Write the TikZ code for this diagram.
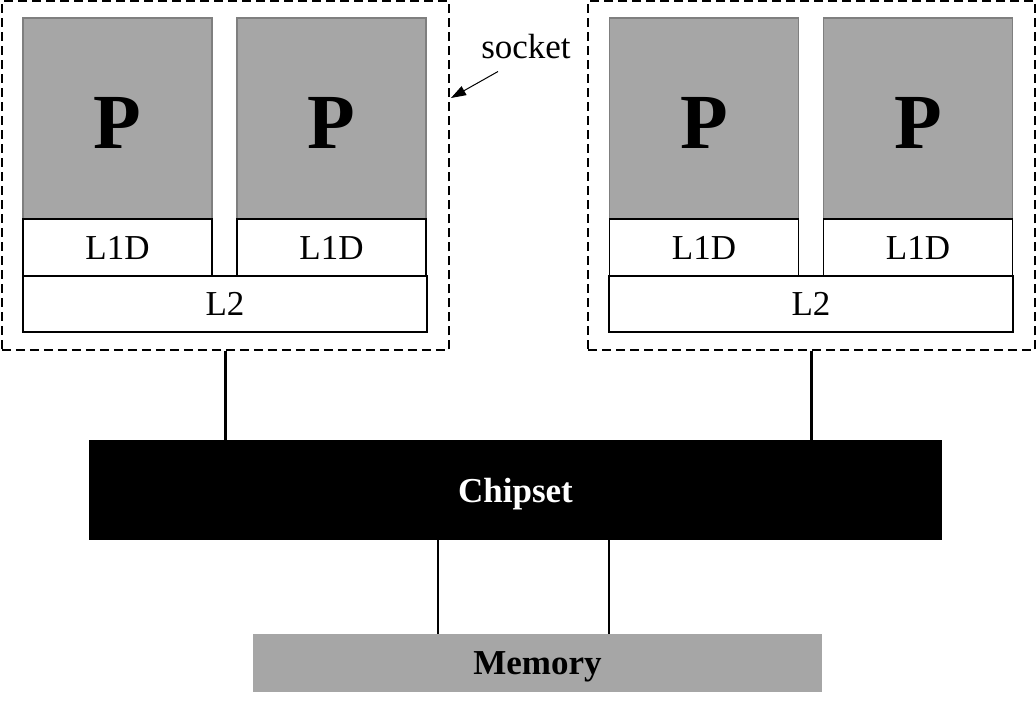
\documentclass[tikz,border=0pt]{standalone}
\usepackage{fontspec}
\setmainfont{Liberation Serif}
\usepackage{xcolor}
\usetikzlibrary{arrows.meta}

\definecolor{cpugray}{HTML}{A6A6A6}
\definecolor{cpuedge}{HTML}{7F7F7F}

\tikzset{
    core/.style={rectangle,draw=cpuedge,fill=cpugray,line width=1.5pt,inner sep=0pt,text height=60pt,text depth=0pt,
        minimum width=189pt,minimum height=201pt,font=\fontsize{78}{80}\selectfont\bfseries},
    cache/.style={rectangle,draw,line width=1.5pt,inner sep=0pt,fill=white,text depth=0pt,
        minimum height=57pt,font=\fontsize{35}{40}\selectfont},
    socketbox/.style={rectangle,draw,dashed,dash pattern=on 9pt off 5pt,line width=2.3pt,
        minimum width=447pt,minimum height=349pt,inner sep=0pt},
    bus/.style={line width=2.6pt}
}

\begin{document}
\begin{tikzpicture}[x=1pt,y=-1pt]
    \useasboundingbox (0,0) rectangle (1036,706);
    % left socket
    \node[socketbox](sockL) at (225.25,175.75){};
    \node[core](pL1) at (117.5,118.5){P};
    \node[core](pL2) at (331.5,118.5){P};
    \node[cache,minimum width=189pt](cL1) at (117.5,247.5){L1D};
    \node[cache,minimum width=189pt](cL2) at (331.5,247.5){L1D};
    \node[cache,minimum width=404pt,minimum height=56pt](l2L) at (225,304){L2};
    % right socket
    \node[socketbox](sockR) at (811.5,175.75){};
    \node[core](pR1) at (704,118.5){P};
    \node[core](pR2) at (918,118.5){P};
    \node[cache,minimum width=189pt](cR1) at (704,247.5){L1D};
    \node[cache,minimum width=189pt](cR2) at (918,247.5){L1D};
    \node[cache,minimum width=404pt,minimum height=56pt](l2R) at (811,304){L2};
    % chipset and memory
    \node[rectangle,fill=black,text=white,inner sep=0pt,text depth=0pt,minimum width=853pt,minimum height=100pt,
        font=\fontsize{35}{40}\selectfont\bfseries](chip) at (515.5,490){Chipset};
    \node[rectangle,fill=cpugray,inner sep=0pt,text depth=0pt,minimum width=569pt,minimum height=58pt,
        font=\fontsize{35}{40}\selectfont\bfseries](mem) at (537.5,663){Memory};
    \draw[bus] (sockL.south) -- (sockL.south |- chip.north);
    \draw[bus] (sockR.south) -- (sockR.south |- chip.north);
    \draw[bus] ([xshift=-77.5pt]chip.south) -- ([xshift=-77.5pt]chip.south |- mem.north);
    \draw[bus] ([xshift=93.5pt]chip.south) -- ([xshift=93.5pt]chip.south |- mem.north);
    % label
    \node[font=\fontsize{35}{40}\selectfont,inner sep=0pt](lbl) at (526,47){socket};
    \coordinate (sockTip) at (451,98);
    \draw[line width=1pt,-{Triangle[length=15pt,width=10pt]}] ([xshift=-28pt,yshift=-12pt]lbl.south) -- (sockTip);
\end{tikzpicture}
\end{document}
